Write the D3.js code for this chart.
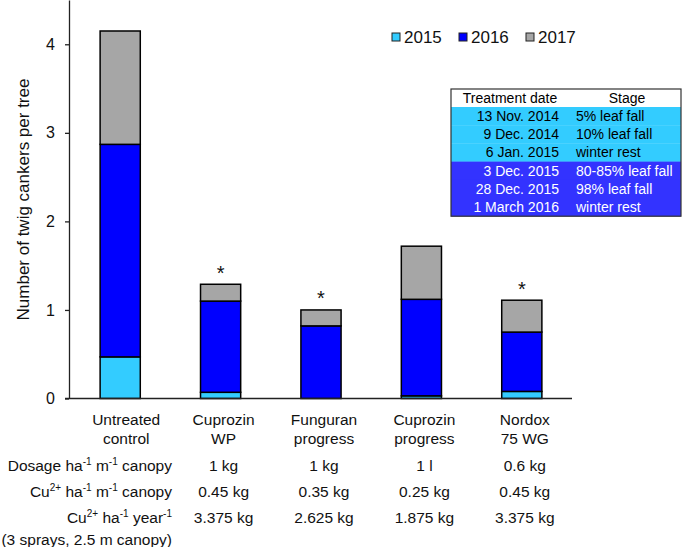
<!DOCTYPE html>
<html>
<head>
<meta charset="utf-8">
<script src="https://cdn.jsdelivr.net/npm/d3@7"></script>
<style>
  html, body { margin: 0; padding: 0; background: #fff; }
  svg { display: block; font-family: "Liberation Sans", Arial, sans-serif; }
</style>
</head>
<body>
<svg id="chart" width="685" height="547"></svg>
<script>
// ---- data ----
const categories = ["Untreated control", "Cuprozin WP", "Funguran progress", "Cuprozin progress", "Nordox 75 WG"];
const categoryLines = [["Untreated", "control"], ["Cuprozin", "WP"], ["Funguran", "progress"], ["Cuprozin", "progress"], ["Nordox", "75 WG"]];
const years = ["2015", "2016", "2017"];
const cankers2015 = [0.47, 0.07, 0.00, 0.03, 0.08];
const cankers2016 = [2.40, 1.03, 0.82, 1.09, 0.67];
const cankers2017 = [1.28, 0.19, 0.18, 0.60, 0.36];
const significant = [false, true, true, false, true];
const yTicks = [0, 1, 2, 3, 4];

const dosage = ["", "1 kg", "1 kg", "1 l", "0.6 kg"];
const cuPerCanopy = ["", "0.45 kg", "0.35 kg", "0.25 kg", "0.45 kg"];
const cuPerYear = ["", "3.375 kg", "2.625 kg", "1.875 kg", "3.375 kg"];

const treatmentDates = ["13 Nov. 2014", "9 Dec. 2014", "6 Jan. 2015", "3 Dec. 2015", "28 Dec. 2015", "1 March 2016"];
const treatmentStages = ["5% leaf fall", "10% leaf fall", "winter rest", "80-85% leaf fall", "98% leaf fall", "winter rest"];
const treatmentSeason = [0, 0, 0, 1, 1, 1];

// ---- styles ----
const yearColors = { "2015": "#33CCFF", "2016": "#0000FF", "2017": "#A6A6A6" };
const seasonFill = ["#33CCFF", "#3333FF"];
const seasonText = ["#000", "#fff"];
const FS = 15.5;

const svg = d3.select("#chart");
svg.append("rect").attr("width", 685).attr("height", 547).attr("fill", "#fff");

const rows = categories.map((c, i) => ({ cat: c, "2015": cankers2015[i], "2016": cankers2016[i], "2017": cankers2017[i] }));
const stacked = d3.stack().keys(years)(rows);

const x = d3.scaleBand().domain(categories).range([70, 572]).paddingInner(0.6).paddingOuter(0.3);
const y = d3.scaleLinear().domain([0, 4.5]).range([398.5, 0]);

// bars
svg.append("g").selectAll("g").data(stacked).join("g")
  .attr("fill", d => yearColors[d.key])
  .selectAll("rect").data(d => d).join("rect")
  .attr("x", d => x(d.data.cat))
  .attr("width", x.bandwidth())
  .attr("y", d => y(d[1]))
  .attr("height", d => Math.max(0, y(d[0]) - y(d[1])))
  .attr("stroke", "#000")
  .attr("stroke-width", 1.5);

// asterisks
svg.append("g").selectAll("text").data(rows.filter((r, i) => significant[i])).join("text")
  .attr("x", d => x(d.cat) + x.bandwidth() / 2)
  .attr("y", d => y(d["2015"] + d["2016"] + d["2017"]) - 4.5)
  .attr("text-anchor", "middle")
  .attr("font-size", 20)
  .attr("fill", "#111")
  .text("*");

// y axis
const yAxis = d3.axisLeft(y).tickValues(yTicks).tickSize(4).tickSizeOuter(0).tickPadding(10).tickFormat(d3.format("d"));
const gy = svg.append("g").attr("transform", "translate(69,0)").call(yAxis);
gy.select(".domain").attr("stroke", "#222").attr("stroke-width", 1.3);
gy.selectAll(".tick line").attr("stroke", "#222").attr("stroke-width", 1.3);
gy.selectAll(".tick text").attr("font-size", 16).attr("font-family", "Liberation Sans, Arial, sans-serif").attr("fill", "#111");

// x baseline
svg.append("line").attr("x1", 65).attr("x2", 572).attr("y1", y(0)).attr("y2", y(0))
  .attr("stroke", "#222").attr("stroke-width", 1.3);

// y title
svg.append("text")
  .attr("transform", `translate(29,${(78 + 321) / 2}) rotate(-90)`)
  .attr("text-anchor", "middle")
  .attr("font-size", 17)
  .attr("fill", "#111")
  .text("Number of twig cankers per tree");

// category labels
const colX = (i) => x(categories[i]) + x.bandwidth() / 2 + (i === 0 ? 6 : 3);
const catG = svg.append("g").attr("font-size", FS).attr("text-anchor", "middle").attr("fill", "#111");
categoryLines.forEach((lines, i) => {
  lines.forEach((ln, j) => {
    catG.append("text").attr("x", colX(i)).attr("y", 425 + j * 19).text(ln);
  });
});

// row labels with superscripts
const rowG = svg.append("g").attr("font-size", FS).attr("fill", "#111");
function rowLabel(yy, parts) {
  const t = rowG.append("text").attr("x", 172).attr("y", yy).attr("text-anchor", "end");
  let raised = false;
  parts.forEach(p => {
    if (p.sup) {
      t.append("tspan").attr("font-size", 10).attr("dy", raised ? 0 : -6).text(p.sup);
      raised = true;
    } else {
      const ts = t.append("tspan").text(p.t);
      if (raised) { ts.attr("dy", 6); raised = false; }
    }
  });
}
rowLabel(471, [{ t: "Dosage ha" }, { sup: "-1" }, { t: " m" }, { sup: "-1" }, { t: " canopy" }]);
rowLabel(497, [{ t: "Cu" }, { sup: "2+" }, { t: " ha" }, { sup: "-1" }, { t: " m" }, { sup: "-1" }, { t: " canopy" }]);
rowLabel(523, [{ t: "Cu" }, { sup: "2+" }, { t: " ha" }, { sup: "-1" }, { t: " year" }, { sup: "-1" }]);
rowG.append("text").attr("x", 172).attr("y", 545).attr("text-anchor", "end").text("(3 sprays, 2.5 m canopy)");
rowG.selectAll("text").attr("xml:space", "preserve").style("white-space", "pre");

// row values
[[dosage, 471], [cuPerCanopy, 497], [cuPerYear, 523]].forEach(([arr, yy]) => {
  arr.forEach((v, i) => {
    if (v) rowG.append("text").attr("x", colX(i)).attr("y", yy).attr("text-anchor", "middle").text(v);
  });
});

// legend
const leg = svg.append("g").attr("font-size", 17).attr("fill", "#111");
years.forEach((yr, i) => {
  const lx = 392 + i * 67;
  leg.append("rect").attr("x", lx).attr("y", 33).attr("width", 8).attr("height", 8)
    .attr("fill", yearColors[yr]).attr("stroke", "#222").attr("stroke-width", 1);
  leg.append("text").attr("x", lx + 12).attr("y", 43).text(yr);
});

// treatment table
const tX0 = 451, tX1 = 681, tY0 = 89, headH = 18, rowH = 18.2;
const tab = svg.append("g").attr("font-size", 14);
tab.append("rect").attr("x", tX0).attr("y", tY0).attr("width", tX1 - tX0).attr("height", headH).attr("fill", "#fff");
tab.append("text").attr("x", 510).attr("y", tY0 + 14).attr("text-anchor", "middle").attr("fill", "#000").text("Treatment date");
tab.append("text").attr("x", 627).attr("y", tY0 + 14).attr("text-anchor", "middle").attr("fill", "#000").text("Stage");
treatmentDates.forEach((dt, i) => {
  const ry = tY0 + headH + i * rowH;
  const s = treatmentSeason[i];
  tab.append("rect").attr("x", tX0).attr("y", ry).attr("width", tX1 - tX0).attr("height", rowH + 0.3).attr("fill", seasonFill[s]);
  tab.append("text").attr("x", 559).attr("y", ry + 14).attr("text-anchor", "end").attr("fill", seasonText[s]).text(dt);
  tab.append("text").attr("x", 576).attr("y", ry + 14).attr("text-anchor", "start").attr("fill", seasonText[s]).text(treatmentStages[i]);
});
tab.append("rect").attr("x", tX0).attr("y", tY0).attr("width", tX1 - tX0).attr("height", headH + rowH * treatmentDates.length)
  .attr("fill", "none").attr("stroke", "#333").attr("stroke-width", 1.2);
</script>
</body>
</html>
